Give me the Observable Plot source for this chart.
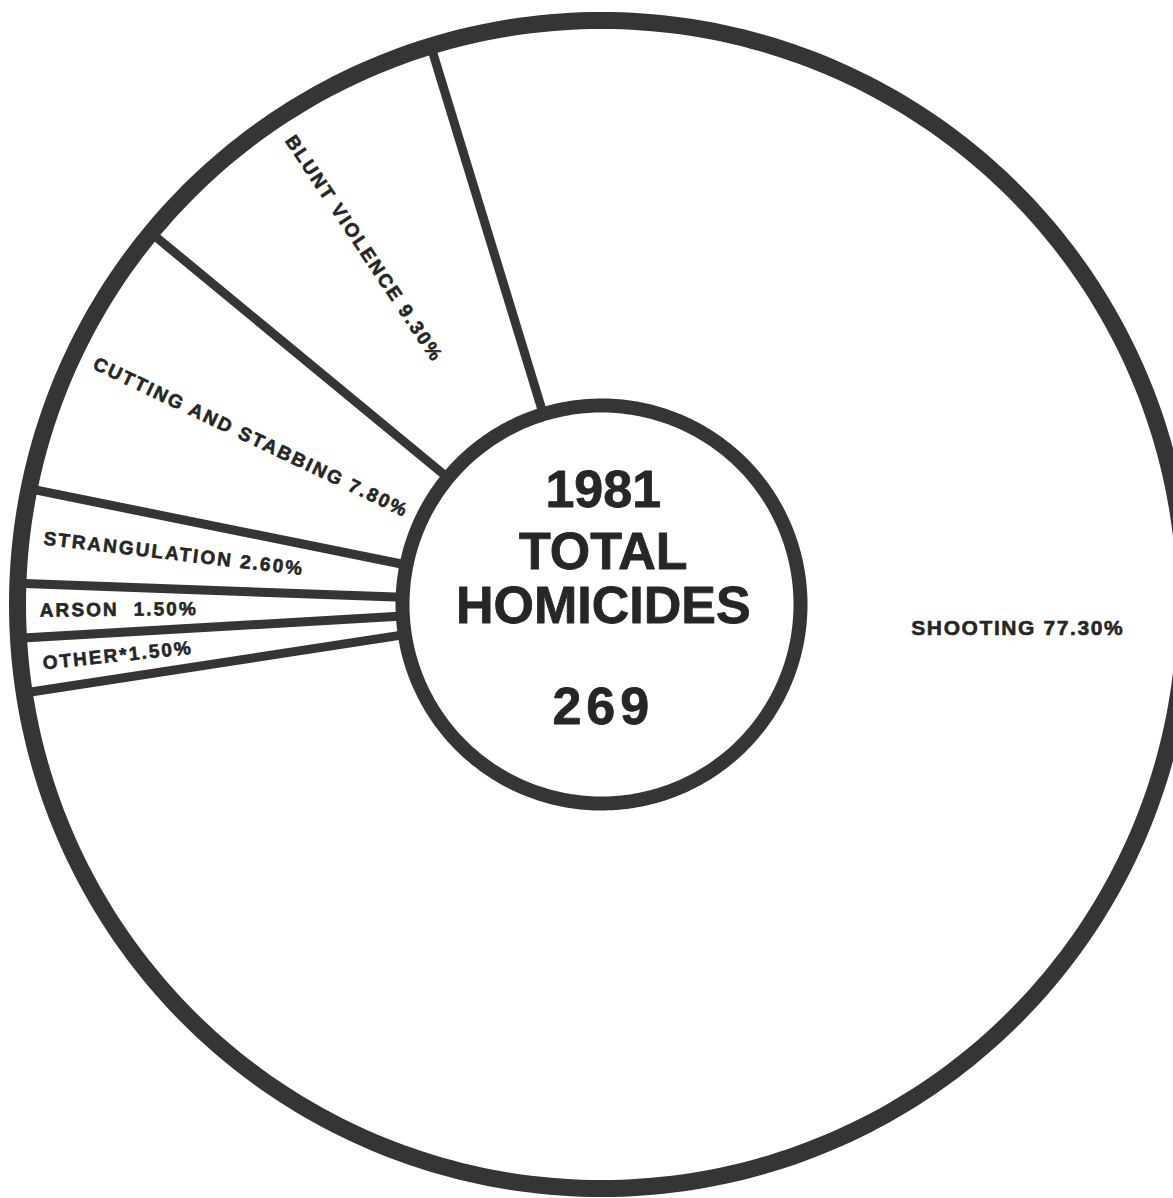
<!DOCTYPE html>
<html>
<head>
<meta charset="utf-8">
<script src="https://cdn.jsdelivr.net/npm/d3@7"></script>
<script src="https://cdn.jsdelivr.net/npm/@observablehq/plot@0.6"></script>
<style>
  html, body { margin: 0; padding: 0; background: #ffffff; }
  svg { display: block; }
</style>
</head>
<body>
<script>
// ---- data ----
const categories = ["SHOOTING", "OTHER*", "ARSON", "STRANGULATION", "CUTTING AND STABBING", "BLUNT VIOLENCE"];
const shares = [77.3, 1.5, 1.5, 2.6, 7.8, 9.3];
const year = 1981;
const totalHomicides = 269;
const centerLines = [String(year), "TOTAL", "HOMICIDES", String(totalHomicides)];

// ---- layout ----
const W = 1173, H = 1198;
const CX = 601, CY = 604, R = 584;         // pixel centre and outer radius
const INNER = 199 / R;                      // hole radius in unit coords
const LABEL_R = 0.962;                      // where radial labels start
const START_DEG = -17;                      // rotation of the pie
const INK = "#353535";
const TEXT_INK = "#262626";

const rows = categories.map((c, i) => ({category: c, share: shares[i]}));
const arcs = d3.pie().sort(null).value(d => d.share)
  .startAngle(START_DEG * Math.PI / 180)
  .endAngle(START_DEG * Math.PI / 180 + 2 * Math.PI)(rows);

const pt = (r, a) => [r * Math.sin(a), r * Math.cos(a)];
const circle = (r) => d3.range(0, 361, 1).map(d => pt(r, d * Math.PI / 180));

const boundaries = arcs.map(a => {
  const [x1, y1] = pt(INNER, a.startAngle);
  const [x2, y2] = pt(1, a.startAngle);
  return {x1, y1, x2, y2};
});

const fmt = (d) => d.category === "OTHER*" ? `${d.category}${d.share.toFixed(2)}%`
  : d.category === "ARSON" ? `${d.category}  ${d.share.toFixed(2)}%`
  : `${d.category} ${d.share.toFixed(2)}%`;

const radialLabels = arcs.filter(a => a.data.category !== "SHOOTING").map(a => {
  const m = (a.startAngle + a.endAngle) / 2;
  const [x, y] = pt(LABEL_R, m);
  return {x, y, text: fmt(a.data), rotate: Math.atan2(Math.cos(m), -Math.sin(m)) * 180 / Math.PI};
});

const shootArc = arcs.find(a => a.data.category === "SHOOTING");
const [sx, sy] = pt(0.714, 93.3 * Math.PI / 180);
const shootLabel = [{x: sx, y: sy, text: fmt(shootArc.data)}];

const centerY = [0.195, 0.089, -0.003, -0.176];
const centerText = centerLines.map((t, i) => ({x: 0.003, y: centerY[i], text: t}));

const chart = Plot.plot({
  width: W,
  height: H,
  margin: 0,
  x: {domain: [-CX / R, (W - CX) / R], axis: null},
  y: {domain: [-(H - CY) / R, CY / R], axis: null},
  style: {background: "#ffffff", fontFamily: "'Liberation Sans', Arial, Helvetica, sans-serif"},
  marks: [
    Plot.line(circle(1), {x: d => d[0], y: d => d[1], stroke: INK, strokeWidth: 17, fill: "#ffffff"}),
    Plot.link(boundaries, {x1: "x1", y1: "y1", x2: "x2", y2: "y2", stroke: INK, strokeWidth: 9}),
    Plot.line(circle(INNER), {x: d => d[0], y: d => d[1], stroke: INK, strokeWidth: 14, fill: "#ffffff"}),
    Plot.text(radialLabels, {x: "x", y: "y", text: "text", rotate: "rotate", textAnchor: "start",
      fontSize: 19, fontWeight: "bold", fill: TEXT_INK, stroke: TEXT_INK, strokeWidth: 0.6}),
    Plot.text(shootLabel, {x: "x", y: "y", text: "text", textAnchor: "middle",
      fontSize: 21, fontWeight: "bold", fill: TEXT_INK, stroke: TEXT_INK, strokeWidth: 0.6}),
    Plot.text(centerText, {x: "x", y: "y", text: "text", textAnchor: "middle",
      fontSize: 52, fontWeight: "bold", fill: TEXT_INK, stroke: TEXT_INK, strokeWidth: 0.8})
  ]
});

// letter spacing to mimic the wide lettering of the original
const radialSet = new Set(radialLabels.map(d => d.text));
d3.select(chart).selectAll("text").each(function () {
  const t = this.textContent;
  if (radialSet.has(t)) this.style.letterSpacing = "2.1px";
  else if (t === shootLabel[0].text) this.style.letterSpacing = "1.6px";
  else if (t === String(totalHomicides)) this.style.letterSpacing = "5px";
});
document.body.appendChild(chart);
</script>
</body>
</html>
